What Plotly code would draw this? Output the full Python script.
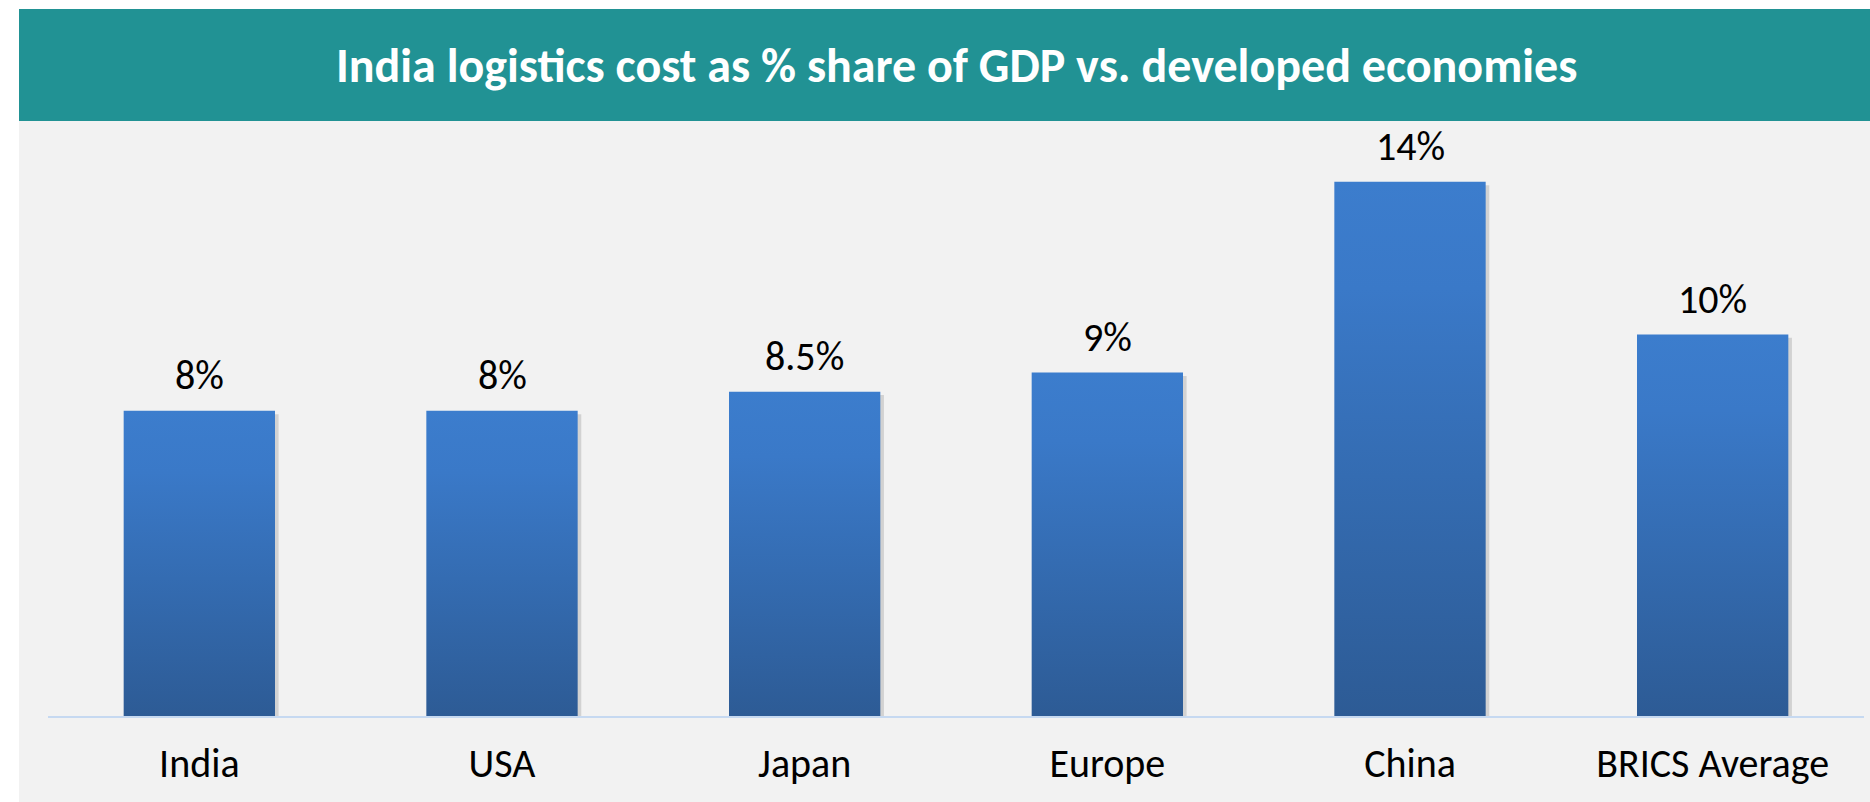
import plotly.graph_objects as go

# Logistics cost as a share of GDP (%)
categories = ["India", "USA", "Japan", "Europe", "China", "BRICS Average"]
values = [8, 8, 8.5, 9, 14, 10]
value_labels = ["8%", "8%", "8.5%", "9%", "14%", "10%"]

TITLE = "India logistics cost as % share of GDP vs. developed economies"

W, H = 1870, 802
FONT = "Carlito, Calibri, Lato, sans-serif"
TEAL = "#219294"
PANEL = "#f2f2f2"
BAR_HALF = 0.25

# pixel helpers for paper coordinates (margins are zero, paper == page)
def px_x(p):
    return p / W

def px_y(p):
    return (H - p) / H

fig = go.Figure()

# Bars drawn as filled outlines so each gets its own vertical gradient
bar_scale = [[0.0, "#2d5b95"], [0.45, "#346cb2"], [0.8, "#3a79c8"], [1.0, "#3c7dcd"]]
for i, (cat, v) in enumerate(zip(categories, values)):
    xs = [i - BAR_HALF, i + BAR_HALF, i + BAR_HALF, i - BAR_HALF, i - BAR_HALF]
    ys = [0, 0, v, v, 0]
    # soft drop shadow
    fig.add_trace(go.Scatter(
        x=[x + 0.012 for x in xs], y=[max(y - 0.09, -0.09) for y in ys],
        fill="toself", mode="none", fillcolor="rgba(0,0,0,0.13)",
        hoverinfo="skip", showlegend=False,
    ))
    fig.add_trace(go.Scatter(
        x=xs, y=ys, fill="toself", mode="none",
        fillgradient=dict(type="vertical", colorscale=bar_scale),
        name=cat, hoverinfo="skip", showlegend=False,
    ))

# Value labels above each bar
for i, (v, lab) in enumerate(zip(values, value_labels)):
    fig.add_annotation(
        x=i, y=v, text=lab, showarrow=False, yanchor="middle", yshift=35,
        font=dict(family=FONT, size=40, color="#000000"),
    )

# Panel background and title band
fig.add_shape(type="rect", xref="paper", yref="paper",
              x0=px_x(19), x1=1, y0=0, y1=px_y(121),
              fillcolor=PANEL, line_width=0, layer="below")
fig.add_shape(type="rect", xref="paper", yref="paper",
              x0=px_x(19), x1=1, y0=px_y(121), y1=px_y(9),
              fillcolor=TEAL, line_width=0, layer="below")
fig.add_annotation(
    xref="paper", yref="paper", x=px_x(957), y=px_y(66),
    text="<b>" + TITLE + "</b>", showarrow=False,
    xanchor="center", yanchor="middle",
    font=dict(family=FONT, size=48, color="#ffffff"),
)

plot_top = 125
baseline = 716
fig.update_layout(
    width=W, height=H,
    margin=dict(l=0, r=0, t=0, b=0),
    paper_bgcolor="#ffffff",
    plot_bgcolor="rgba(0,0,0,0)",
    showlegend=False,
    xaxis=dict(
        domain=[px_x(48), px_x(1864)],
        range=[-0.5, len(categories) - 0.5],
        tickmode="array", tickvals=list(range(len(categories))), ticktext=categories,
        showgrid=False, zeroline=False, ticks="",
        showline=True, linecolor="#c6d9f1", linewidth=2,
        tickfont=dict(family=FONT, size=40, color="#000000"),
        ticklabelstandoff=11,
        fixedrange=True,
    ),
    yaxis=dict(
        domain=[px_y(baseline), px_y(plot_top)],
        range=[0, (baseline - plot_top) / 38.16],
        showgrid=False, zeroline=False, showticklabels=False, ticks="",
        fixedrange=True,
    ),
)

fig.write_html("out.html", config={"displayModeBar": False})
